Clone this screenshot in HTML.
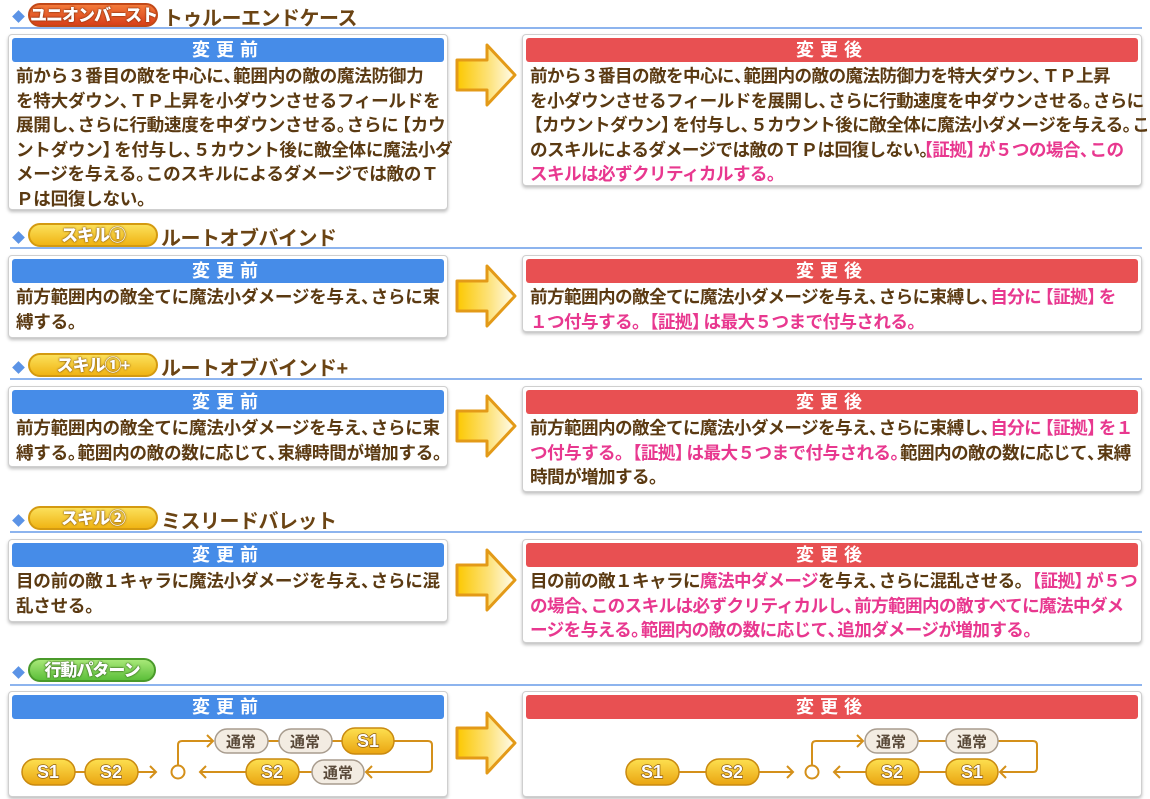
<!DOCTYPE html>
<html><head><meta charset="utf-8">
<style>
*{margin:0;padding:0;box-sizing:border-box}
body{width:1150px;height:799px;background:#fff;position:relative;overflow:hidden;font-family:"Liberation Sans","Noto Sans CJK JP",sans-serif;color:#5b3a12}
.a{position:absolute}
.line{position:absolute;left:10px;width:1132px;height:2px;background:#8db4ee}
.dia{position:absolute;width:9px;height:9px;background:#5b93e6;transform:rotate(45deg)}
.badge{position:absolute;height:24px;border-radius:12px;font-weight:900;font-size:17px;text-align:center;line-height:21px;color:#fff;white-space:nowrap;letter-spacing:-1px;overflow:hidden}
.org{background:linear-gradient(#f47a3a,#d8401a);border:2px solid #c24818;text-shadow:0 0 2px #7a2a08,0 0 1px #7a2a08}
.yel{background:linear-gradient(#fbe05a,#f0b414);border:2px solid #d49a10;text-shadow:0 0 2px #7a4a08,0 0 1px #7a4a08}
.grn{background:linear-gradient(#a8e878,#5cbf3a);border:2px solid #4a9a2a;text-shadow:0 0 2px #2a5a12,0 0 1px #2a5a12}
.title{position:absolute;font-weight:bold;font-size:20px;color:#6b4414;white-space:nowrap;letter-spacing:-0.5px;top:0}
.box{position:absolute;border:1px solid #cfcfcf;border-radius:4px;background:#fff;box-shadow:0 2px 3px rgba(0,0,0,.25)}
.hd{position:absolute;left:3px;right:3px;top:3px;height:24px;border-radius:3px;color:#fff;font-weight:bold;font-size:18px;text-align:center;line-height:24px;letter-spacing:6px}
.bl{background:#468ce8}.rd{background:#e85052}
.tx{position:absolute;left:7px;top:29px;font-weight:bold;font-size:17.6px;line-height:24.5px;white-space:nowrap;letter-spacing:-0.3px}
.r .tx{letter-spacing:-0.6px}
.l .tx{letter-spacing:-0.3px}
.p{color:#e8388f}
.q{letter-spacing:-8px}
.lb{margin-left:-5px}
.rb{letter-spacing:-6px}
</style></head><body>

<div class="dia" style="left:14px;top:12px"></div>
<div class="badge org" style="left:28px;top:3px;width:130px">ユニオンバースト</div>
<div class="title" style="left:163px;top:2px">トゥルーエンドケース</div>
<div class="line" style="top:27px"></div>
<div class="box l" style="left:8px;top:34px;width:440px;height:176px"><div class="hd bl">変更前</div>
<div class="tx">前から３番目の敵を中心に、範囲内の敵の魔法防御力<br>を特大ダウン、ＴＰ上昇を小ダウンさせるフィールドを<br>展開し、さらに行動速度を中ダウンさせる。さらに【カウ<br>ントダウン】を付与し、５カウント後に敵全体に魔法小ダ<br>メージを与える。このスキルによるダメージでは敵のＴ<br>Ｐは回復しない。</div></div>
<div class="box r" style="left:522px;top:34px;width:620px;height:152px"><div class="hd rd">変更後</div>
<div class="tx">前から３番目の敵を中心に、範囲内の敵の魔法防御力を特大ダウン、ＴＰ上昇<br>を小ダウンさせるフィールドを展開し、さらに行動速度を中ダウンさせる。さらに<br>【カウントダウン】を付与し、５カウント後に敵全体に魔法小ダメージを与える。こ<br>のスキルによるダメージでは敵のＴＰは回復しない。<span class="p">【証拠】が５つの場合、この<br>スキルは必ずクリティカルする。</span></div></div>

<div class="dia" style="left:14px;top:233px"></div>
<div class="badge yel" style="left:28px;top:223px;width:130px">スキル①</div>
<div class="title" style="left:161px;top:222px">ルートオブバインド</div>
<div class="line" style="top:247px"></div>
<div class="box l" style="left:8px;top:255px;width:440px;height:83px"><div class="hd bl">変更前</div>
<div class="tx">前方範囲内の敵全てに魔法小ダメージを与え、さらに束<br>縛する。</div></div>
<div class="box r" style="left:522px;top:255px;width:620px;height:77px"><div class="hd rd">変更後</div>
<div class="tx">前方範囲内の敵全てに魔法小ダメージを与え、さらに束縛し、<span class="p">自分に【証拠】を<br>１つ付与する。 【証拠】は最大５つまで付与される。</span></div></div>

<div class="dia" style="left:14px;top:363px"></div>
<div class="badge yel" style="left:28px;top:353px;width:130px">スキル①+</div>
<div class="title" style="left:161px;top:352px">ルートオブバインド+</div>
<div class="line" style="top:378px"></div>
<div class="box l" style="left:8px;top:386px;width:440px;height:81px"><div class="hd bl">変更前</div>
<div class="tx">前方範囲内の敵全てに魔法小ダメージを与え、さらに束<br>縛する。範囲内の敵の数に応じて、束縛時間が増加する。</div></div>
<div class="box r" style="left:522px;top:386px;width:620px;height:106px"><div class="hd rd">変更後</div>
<div class="tx">前方範囲内の敵全てに魔法小ダメージを与え、さらに束縛し、<span class="p">自分に【証拠】を１<br>つ付与する。 【証拠】は最大５つまで付与される。</span>範囲内の敵の数に応じて、束縛<br>時間が増加する。</div></div>

<div class="dia" style="left:14px;top:516px"></div>
<div class="badge yel" style="left:28px;top:506px;width:130px">スキル②</div>
<div class="title" style="left:161px;top:505px">ミスリードバレット</div>
<div class="line" style="top:531px"></div>
<div class="box l" style="left:8px;top:539px;width:440px;height:83px"><div class="hd bl">変更前</div>
<div class="tx">目の前の敵１キャラに魔法小ダメージを与え、さらに混<br>乱させる。</div></div>
<div class="box r" style="left:522px;top:539px;width:620px;height:104px"><div class="hd rd">変更後</div>
<div class="tx">目の前の敵１キャラに<span class="p">魔法中ダメージ</span>を与え、さらに混乱させる。 <span class="p">【証拠】が５つ<br>の場合、このスキルは必ずクリティカルし、前方範囲内の敵すべてに魔法中ダメ<br>ージを与える。範囲内の敵の数に応じて、追加ダメージが増加する。</span></div></div>

<div class="dia" style="left:14px;top:668px"></div>
<div class="badge grn" style="left:28px;top:658px;width:128px">行動パターン</div>
<div class="line" style="top:684px"></div>
<div class="box" style="left:8px;top:691px;width:440px;height:106px"><div class="hd bl">変更前</div></div>
<div class="box" style="left:522px;top:691px;width:620px;height:106px"><div class="hd rd">変更後</div></div>

<svg class="a" style="left:0;top:0" width="1150" height="799" font-family="Liberation Sans, Noto Sans CJK JP, sans-serif" font-weight="bold">
<defs>
<linearGradient id="ag" x1="0" x2="1"><stop offset="0" stop-color="#fcc800"/><stop offset="0.55" stop-color="#fde27a"/><stop offset="1" stop-color="#fffdf0"/></linearGradient>
<linearGradient id="pg" x1="0" y1="0" x2="0" y2="1"><stop offset="0" stop-color="#fde050"/><stop offset="1" stop-color="#eaa410"/></linearGradient>
<g id="arr"><path d="M0,15 H30 V0 L58,30 L30,60 V45 H0 Z" fill="url(#ag)" stroke="#e39a18" stroke-width="3" stroke-linejoin="round"/></g>
</defs>
<use href="#arr" x="457" y="45"/>
<use href="#arr" x="457" y="266"/>
<use href="#arr" x="457" y="396"/>
<use href="#arr" x="457" y="550"/>
<use href="#arr" x="457" y="713"/>

<g fill="none" stroke="#d4901a" stroke-width="2">
<path d="M75,772H85 M138,772H156"/><path d="M150,766l6,6l-6,6"/>
<circle cx="178" cy="772" r="6.5" fill="#fff"/>
<path d="M178,765V745q0-4 4-4H213"/><path d="M207,735l6,6l-6,6"/>
<path d="M268,741H279 M332,741H342 M394,741H428q4,0 4,4V768q0,4-4,4H366"/><path d="M372,766l-6,6l6,6"/>
<path d="M312,772H299 M246,772H200"/><path d="M206,766l-6,6l6,6"/>
<path d="M679,772H706 M759,772H793"/><path d="M787,766l6,6l-6,6"/>
<circle cx="812" cy="772" r="6.5" fill="#fff"/>
<path d="M812,765V745q0-4 4-4H863"/><path d="M857,735l6,6l-6,6"/>
<path d="M918,741H946 M998,741H1033q4,0 4,4V768q0,4-4,4H1000"/><path d="M1006,766l-6,6l6,6"/>
<path d="M946,772H919 M866,772H834"/><path d="M840,766l-6,6l6,6"/>
</g>
<g font-size="18" text-anchor="middle" font-weight="900">
<g fill="url(#pg)" stroke="#c98a10" stroke-width="1.5">
<rect x="22" y="759" width="53" height="26" rx="13"/><rect x="85" y="759" width="53" height="26" rx="13"/>
<rect x="342" y="728" width="52" height="26" rx="13"/><rect x="246" y="759" width="53" height="26" rx="13"/>
<rect x="626" y="759" width="53" height="26" rx="13"/><rect x="706" y="759" width="53" height="26" rx="13"/>
<rect x="866" y="759" width="53" height="26" rx="13"/><rect x="946" y="759" width="52" height="26" rx="13"/>
</g>
<g fill="#f3ece2" stroke="#a89c8e" stroke-width="1.5">
<rect x="215" y="729" width="53" height="24" rx="12"/><rect x="279" y="729" width="53" height="24" rx="12"/>
<rect x="312" y="760" width="52" height="24" rx="12"/>
<rect x="865" y="729" width="53" height="24" rx="12"/><rect x="946" y="729" width="52" height="24" rx="12"/>
</g>
<g fill="#fff" stroke="#7a4a08" stroke-width="1.2" paint-order="stroke">
<text x="48" y="778">S1</text><text x="111" y="778">S2</text><text x="368" y="747">S1</text><text x="272" y="778">S2</text>
<text x="652" y="778">S1</text><text x="732" y="778">S2</text><text x="892" y="778">S2</text><text x="972" y="778">S1</text>
</g>
<g fill="#5a4a3a" font-size="15" font-weight="bold">
<text x="241" y="747">通常</text><text x="305" y="747">通常</text><text x="338" y="778">通常</text>
<text x="891" y="747">通常</text><text x="972" y="747">通常</text>
</g>
</g>
</svg>
<script>
document.querySelectorAll('.tx').forEach(function(el){
  var w=document.createTreeWalker(el,NodeFilter.SHOW_TEXT),n=[],t;
  while(t=w.nextNode())n.push(t);
  n.forEach(function(t){
    if(!/[、。【】]/.test(t.nodeValue))return;
    var f=document.createDocumentFragment();
    t.nodeValue.split(/([、。【】])/).forEach(function(s){
      if(s==='')return;
      var c=null;
      if(s==='、'||s==='。')c='q';else if(s==='【')c='lb';else if(s==='】')c='rb';
      if(c){var sp=document.createElement('span');sp.className=c;sp.textContent=s;f.appendChild(sp);}
      else f.appendChild(document.createTextNode(s));
    });
    t.parentNode.replaceChild(f,t);
  });
});
</script>
</body></html>
